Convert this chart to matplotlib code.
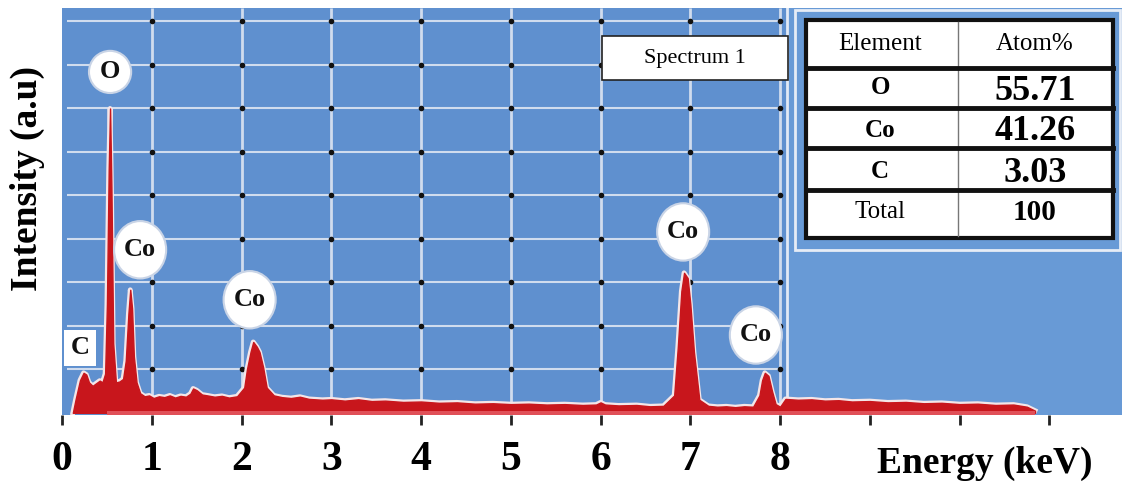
import matplotlib.pyplot as plt
from matplotlib.patches import Ellipse, Rectangle

plt.rcParams["font.family"] = ["Liberation Serif", "DejaVu Serif"]

# EDX spectrum (keV, counts)
energy = [0.12, 0.15, 0.20, 0.24, 0.27, 0.30, 0.34, 0.38, 0.42, 0.45, 0.48, 0.50,
          0.52, 0.535, 0.55, 0.57, 0.60, 0.64, 0.68, 0.71, 0.74, 0.76, 0.78, 0.80,
          0.83, 0.87, 0.92, 0.97, 1.02, 1.08, 1.14, 1.20, 1.26, 1.32, 1.38, 1.43,
          1.46, 1.50, 1.56, 1.62, 1.70, 1.78, 1.86, 1.95, 2.03, 2.06, 2.10, 2.13,
          2.17, 2.20, 2.24, 2.28, 2.36, 2.45, 2.55, 2.65, 2.75, 2.90, 3.00, 3.15,
          3.30, 3.45, 3.60, 3.80, 4.00, 4.20, 4.40, 4.60, 4.80, 5.00, 5.20, 5.40,
          5.60, 5.80, 5.95, 6.00, 6.05, 6.20, 6.40, 6.55, 6.70, 6.82, 6.86, 6.90,
          6.93, 6.97, 7.00, 7.04, 7.10, 7.20, 7.30, 7.40, 7.50, 7.60, 7.70, 7.77,
          7.80, 7.83, 7.87, 7.91, 7.95, 8.00, 8.06, 8.20, 8.35, 8.50, 8.65, 8.80,
          9.00, 9.20, 9.40, 9.60, 9.80, 10.00, 10.20, 10.40, 10.60, 10.75, 10.84]
counts = [0, 30, 75, 92, 88, 70, 62, 68, 74, 70, 90, 250,
          560, 700, 520, 160, 70, 72, 78, 120, 230, 283, 240, 130,
          70, 45, 38, 40, 34, 38, 36, 40, 35, 39, 37, 44,
          56, 52, 42, 40, 37, 39, 35, 38, 58, 100, 140, 163,
          152, 140, 105, 58, 40, 36, 34, 37, 32, 30, 31, 28,
          31, 27, 28, 25, 26, 23, 24, 21, 22, 20, 21, 19,
          20, 18, 19, 24, 19, 17, 18, 15, 16, 40, 150, 280,
          322, 310, 250, 140, 30, 16, 14, 15, 13, 15, 14, 40,
          75, 92, 85, 50, 20, 14, 32, 30, 31, 28, 29, 26,
          27, 24, 25, 22, 23, 20, 21, 18, 19, 14, 5]

# peak labels (label centre, keV / counts)
peak_names = ["O", "Co", "Co", "Co", "Co"]
peak_x = [0.535, 0.87, 2.09, 6.92, 7.73]
peak_y = [784, 375, 260, 416, 179]

# composition table
elements = ["O", "Co", "C", "Total"]
atom_pct = ["55.71", "41.26", "3.03", "100"]

tick_vals = list(range(0, 12))
tick_labels = ["0", "1", "2", "3", "4", "5", "6", "7", "8", "", "", ""]

blue = "#5f90cf"
red = "#c8161c"
grid_c = "#d0dcee"

fig = plt.figure(figsize=(11.26, 4.86), dpi=100)
ax = fig.add_axes([0.0551, 0.1461, 0.9414, 0.8374])
ax.set_facecolor(blue)
ax.set_xlim(0, 11.81)
ax.set_ylim(-5, 931)

# right-hand panel of the instrument window
ax.axvspan(8.08, 11.81, color="#689ad6", zorder=0)
ax.axvline(8.08, color="#e2e9f5", lw=2, zorder=1)

# grid with dots at the crossings
grid_y = [100, 200, 300, 400, 500, 600, 700, 800, 900]
grid_x = [1, 2, 3, 4, 5, 6, 7, 8]
ax.hlines(grid_y, 0.05, 8.0, color=grid_c, lw=1.5, zorder=1)
ax.vlines(grid_x, -5, 931, color=grid_c, lw=2, zorder=1)
for gx in grid_x:
    ax.plot([gx] * len(grid_y), grid_y, "o", color="#111111", ms=3, zorder=1.5)

# spectrum
ax.plot(energy, counts, color="#f4e6e8", lw=3.5, zorder=2)
ax.fill_between(energy, 0, counts, color=red, lw=1, ec=red, zorder=3)
ax.fill_between([0.5, 10.84], -5, 4, color="#e05058", lw=0, zorder=3.5)

# peak labels
for name, x, y in zip(peak_names, peak_x, peak_y):
    w, h = (0.47, 97) if name == "O" else (0.58, 132)
    ax.add_patch(Ellipse((x, y), w, h, fc="white", ec="#c9d4e6", lw=1.5, zorder=4))
    ax.text(x, y, name, ha="center", va="center", fontsize=19,
            fontweight="bold", color="#111111", zorder=5)
ax.text(0.2, 150, "C", ha="center", va="center", fontsize=19, fontweight="bold",
        color="#111111", zorder=5,
        bbox=dict(boxstyle="square,pad=0.25", fc="white", ec="none"))

for s in ax.spines.values():
    s.set_visible(False)
ax.set_yticks([])
ax.set_xticks(tick_vals)
ax.set_xticklabels(tick_labels, fontsize=30, fontweight="bold")
ax.tick_params(axis="x", direction="out", length=7, width=2, pad=12, color="#222222")

ax.set_ylabel("Intensity (a.u)", fontsize=27, fontweight="bold")
ax.yaxis.set_label_coords(-0.016, 0.58)
fig.text(985 / 1126, 1 - 463 / 486, "Energy (keV)", ha="center", va="center",
         fontsize=27, fontweight="bold")

# overlay in pixel coordinates for the boxes
ov = fig.add_axes([0, 0, 1, 1], zorder=10)
ov.set_xlim(0, 1126)
ov.set_ylim(486, 0)
ov.axis("off")

ov.add_patch(Rectangle((602, 36), 186, 44, fc="white", ec="#222222", lw=1.2))
ov.text(695, 58, "Spectrum 1", ha="center", va="center", fontsize=16)

ov.add_patch(Rectangle((795, 10), 325, 240, fc="none", ec="#e6ecf6", lw=2))
ov.add_patch(Rectangle((806, 20), 307, 218, fc="white", ec="#111111", lw=3))
ov.plot([958, 958], [22, 236], color="#777777", lw=1)
for ly in [68, 108, 148, 190]:
    ov.plot([806, 1113], [ly, ly], color="#111111", lw=3.5)
ov.text(880, 44, "Element", ha="center", va="center", fontsize=18)
ov.text(1035, 44, "Atom%", ha="center", va="center", fontsize=18)
row_el_y = [88, 130, 171, 212]
row_val_y = [91, 131, 173, 212]
for i, (el, val) in enumerate(zip(elements, atom_pct)):
    last = el == "Total"
    ov.text(880, row_el_y[i], el, ha="center", va="center",
            fontsize=18, fontweight="normal" if last else "bold")
    ov.text(1035, row_val_y[i], val, ha="center", va="center",
            fontsize=21 if last else 26, fontweight="bold")

fig.savefig("out.png", dpi=100)
